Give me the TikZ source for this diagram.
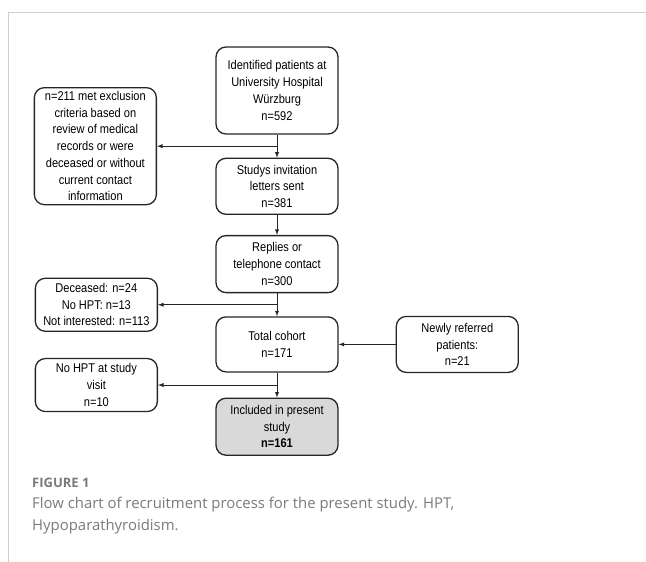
\documentclass[tikz,border=0pt]{standalone}
\usepackage{fontspec}
\usepackage{tikz}
\newfontfamily\chartfont[FakeStretch=0.87]{Liberation Sans}
\newfontfamily\captionfont{Open Sans}
\definecolor{framegray}{HTML}{CFCFCF}
\definecolor{capgray}{HTML}{7A7A7A}
\definecolor{finalgray}{HTML}{D9D9D9}
\tikzset{
    stage/.style={rectangle,rounded corners=10pt,draw=black!85,line width=1.3pt,text centered,align=center,minimum width=122pt,inner sep=2pt,font=\chartfont\fontsize{12.7}{16.7}\selectfont},
    dropout/.style={stage},
    finalstage/.style={stage,fill=finalgray},
    link/.style={line width=0.9pt,draw=black!85},
    captext/.style={anchor=base west,inner sep=0pt,text=capgray},
}
\usetikzlibrary{positioning,calc}

\begin{document}
\begin{tikzpicture}[>=latex,x=1pt,y=-1pt]
\useasboundingbox (0,0) rectangle (646,562);
\draw[framegray,line width=0.9pt] (8,562) -- (8,12.5) -- (646,12.5);
% main column
\node[stage,minimum height=87pt] (Id) at (277,90.5) {Identified patients at\\University Hospital\\Würzburg\\n=592};
\node[stage,minimum height=56pt] (Inv) [below=23pt of Id] {Studys invitation\\letters sent\\n=381} edge [<-,link] (Id);
\node[stage,minimum height=57pt] (Rep) [below=20pt of Inv] {Replies or\\telephone contact\\n=300} edge [<-,link] (Inv);
\node[stage,minimum height=55pt] (Tot) [below=23pt of Rep] {Total cohort\\n=171} edge [<-,link] (Rep);
\node[finalstage,minimum height=57pt] (Inc) [below=25pt of Tot] {Included in present\\study\\\textbf{n=161}} edge [<-,link] (Tot);
% side boxes
\coordinate (B1) at ($(Id.south)!0.5!(Inv.north)$);
\coordinate (B2) at ($(Rep.south)!0.5!(Tot.north)$);
\coordinate (B3) at ($(Tot.south)!0.5!(Inc.north)$);
\node[dropout,minimum height=117pt] (Excl) [left=120pt of B1] {n=211 met exclusion\\criteria based on\\review of medical\\records or were\\deceased or without\\current contact\\information} edge [<-,link] (B1);
\node[dropout,minimum height=53pt] (Dec) [left=119pt of B2] {Deceased: n=24\\No HPT: n=13\\Not interested: n=113} edge [<-,link] (B2);
\node[dropout,minimum height=53pt] (NoHPT) [left=119pt of B3] {No HPT at study\\visit\\n=10} edge [<-,link] (B3);
\node[dropout,minimum height=56pt] (New) [right=57pt of Tot] {Newly referred\\patients:\\n=21} edge [->,link] (Tot);
% caption
\node[captext,font=\captionfont\bfseries\fontsize{13}{15}\selectfont] (FigLabel) at (32,487.3) {FIGURE 1};
\node[captext,font=\captionfont\fontsize{14.9}{21.7}\selectfont] (CapA) at (32,508.3) {Flow chart of recruitment process for the present study. HPT,};
\node[captext,font=\captionfont\fontsize{14.9}{21.7}\selectfont] (CapB) at (32,530) {Hypoparathyroidism.};
\end{tikzpicture}
\end{document}
